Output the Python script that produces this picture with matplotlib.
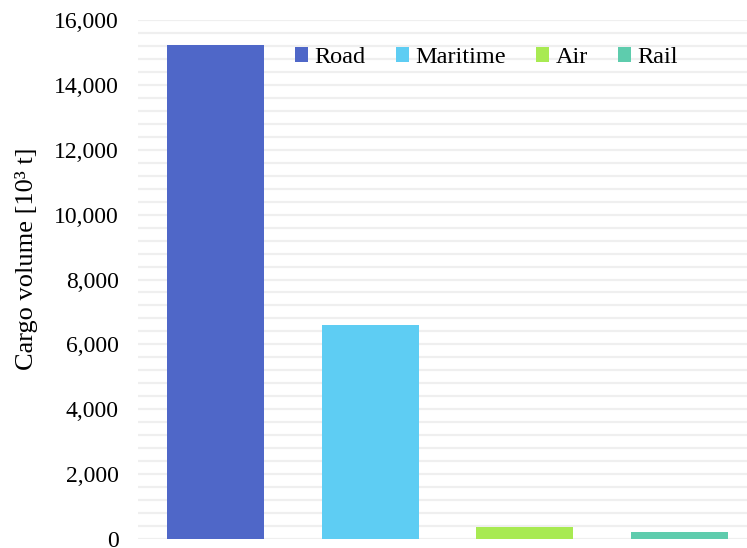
import matplotlib
matplotlib.use("Agg")
import matplotlib.pyplot as plt
from matplotlib.ticker import MultipleLocator, FuncFormatter

categories = ["Road", "Maritime", "Air", "Rail"]
values = [15230, 6610, 370, 215]
colors = ["#4F67C8", "#5ECDF3", "#A8EA52", "#5ECCAD"]

plt.rcParams['font.family'] = ['Liberation Serif', 'DejaVu Serif']

fig = plt.figure(figsize=(7.47, 5.48), dpi=100)
ax = fig.add_axes([138/747, 9/548, 609/747, 519/548])

xs = list(range(len(categories)))
for x, v, c, lab in zip(xs, values, colors, categories):
    ax.bar(x, v, width=0.626, color=c, label=lab, zorder=3)

ax.set_xlim(-0.5, 3.435)
ax.set_ylim(0, 16000)
ax.yaxis.set_major_locator(MultipleLocator(2000))
ax.yaxis.set_minor_locator(MultipleLocator(400))
ax.yaxis.set_major_formatter(FuncFormatter(lambda v, p: f"{int(v):,}"))
ax.grid(axis='y', which='both', color='#EFEFEF', linewidth=1.6, zorder=0)
ax.tick_params(axis='y', which='both', length=0, labelsize=17, pad=14)
ax.set_xticks([])
for s in ax.spines.values():
    s.set_visible(False)

ax.set_ylabel("Cargo volume [10³ t]", fontsize=19)
ax.yaxis.set_label_coords(-0.165, 0.54)

leg = ax.legend(loc='center', bbox_to_anchor=(0.572, 0.927), ncol=4, frameon=False,
                fontsize=17.5, handlelength=0.55, handleheight=0.55, handletextpad=0.25,
                columnspacing=1.25)

fig.savefig("out.png", dpi=100)
